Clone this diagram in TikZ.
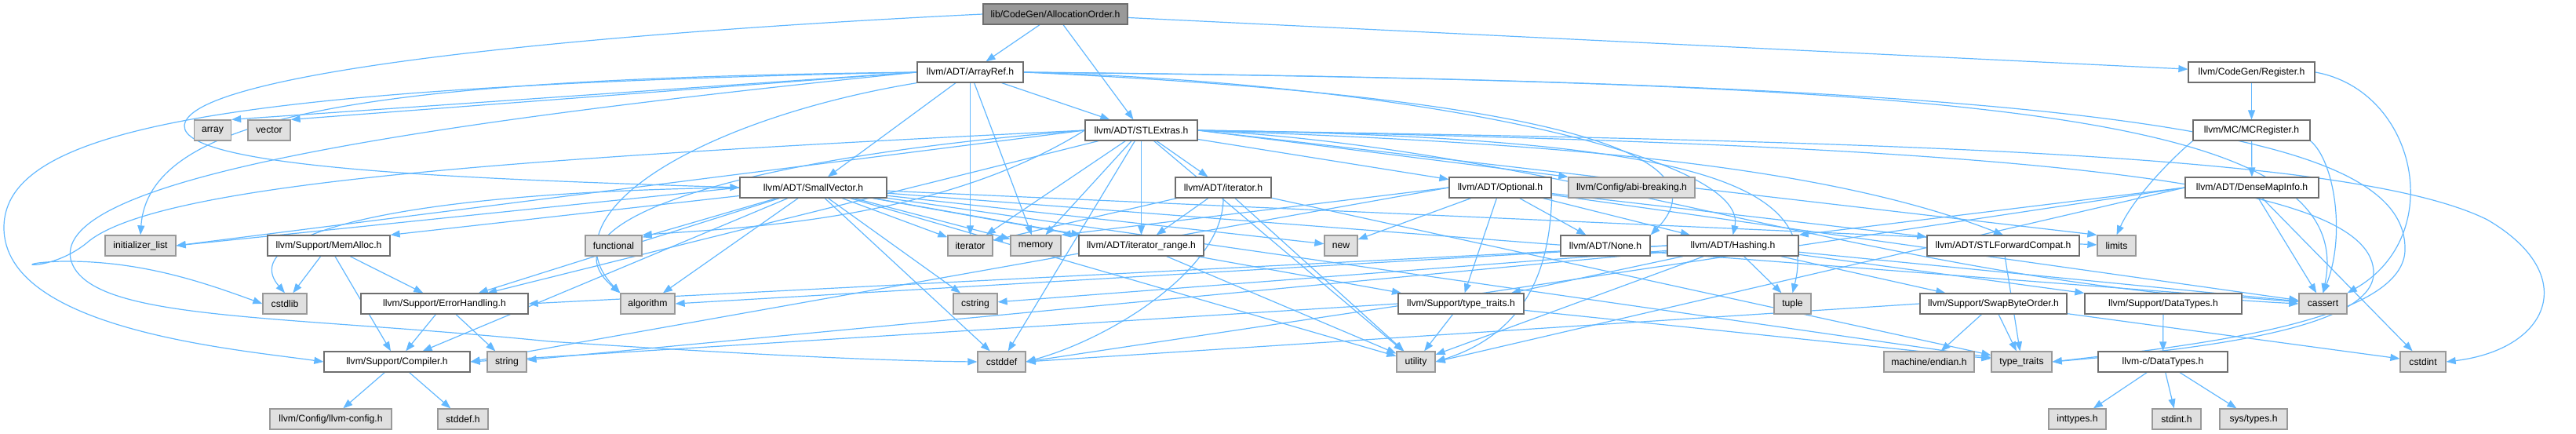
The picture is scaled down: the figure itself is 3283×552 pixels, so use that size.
\documentclass[tikz,border=0pt]{standalone}
\usepackage{fontspec}
\setmainfont{Liberation Sans}
\usetikzlibrary{arrows.meta}
\definecolor{edgec}{RGB}{99,184,255}
\definecolor{gfill}{RGB}{224,224,224}
\definecolor{gline}{RGB}{153,153,153}
\definecolor{wline}{RGB}{110,110,110}
\definecolor{rfill}{RGB}{153,153,153}
\pgfdeclarelayer{bg}
\pgfsetlayers{bg,main}
\begin{document}
\begin{tikzpicture}[x=1pt,y=-1pt,
 box/.style={draw=wline, fill=white, line width=1.3pt, minimum height=26pt, inner sep=0pt, font=\fontsize{12.2}{14}\selectfont, text=black},
 sys/.style={box, draw=gline, fill=gfill},
 rootbox/.style={box, fill=rfill, draw=wline},
 edge/.style={draw=edgec, line width=1.2pt, -{Triangle[length=12pt,width=9pt]}}]
\useasboundingbox (0,0) rectangle (3283,552);
% row 0
\node[rootbox, minimum width=184pt] (A) at (1345,18) {lib/CodeGen/AllocationOrder.h};
% row 1
\node[box, minimum width=135pt] (AR) at (1236.5,92) {llvm/ADT/ArrayRef.h};
\node[box, minimum width=161pt] (RG) at (2869.5,92) {llvm/CodeGen/Register.h};
% row 2
\node[sys, minimum width=47pt] (array) at (271,166) {array};
\node[sys, minimum width=54pt] (vector) at (343,166) {vector};
\node[box, minimum width=143pt] (SE) at (1454.5,166) {llvm/ADT/STLExtras.h};
\node[box, minimum width=149pt] (MR) at (2869.5,166) {llvm/MC/MCRegister.h};
% row 3
\node[box, minimum width=187pt] (SV) at (1036.5,239) {llvm/ADT/SmallVector.h};
\node[box, minimum width=122pt] (IT) at (1559,239) {llvm/ADT/iterator.h};
\node[box, minimum width=130pt] (OP) at (1912,239) {llvm/ADT/Optional.h};
\node[sys, minimum width=161pt] (ABI) at (2079.5,239) {llvm/Config/abi-breaking.h};
\node[box, minimum width=170pt] (DM) at (2870,239) {llvm/ADT/DenseMapInfo.h};
% row 4
\node[sys, minimum width=90pt] (IL) at (179,313) {initializer\_list};
\node[box, minimum width=156pt] (MA) at (419,313) {llvm/Support/MemAlloc.h};
\node[sys, minimum width=72pt] (FN) at (782,313) {functional};
\node[sys, minimum width=57pt] (ITR) at (1236.5,313) {iterator};
\node[sys, minimum width=64pt] (MEM) at (1320,313) {memory};
\node[box, minimum width=159pt] (IRG) at (1454.5,313) {llvm/ADT/iterator\_range.h};
\node[sys, minimum width=42pt] (NEW) at (1709,313) {new};
\node[box, minimum width=114pt] (NONE) at (2046,313) {llvm/ADT/None.h};
\node[box, minimum width=167pt] (HA) at (2208.5,313) {llvm/ADT/Hashing.h};
\node[box, minimum width=194pt] (SF) at (2553,313) {llvm/ADT/STLForwardCompat.h};
\node[sys, minimum width=49pt] (LIM) at (2697.5,313) {limits};
% row 5
\node[sys, minimum width=56pt] (CSL) at (363,387) {cstdlib};
\node[box, minimum width=213pt] (EH) at (566.5,387) {llvm/Support/ErrorHandling.h};
\node[sys, minimum width=69pt] (ALG) at (825.5,387) {algorithm};
\node[sys, minimum width=56pt] (CST) at (1243,387) {cstring};
\node[box, minimum width=160pt] (TT) at (1862,387) {llvm/Support/type\_traits.h};
\node[sys, minimum width=47pt] (TUP) at (2284.5,387) {tuple};
\node[box, minimum width=187pt] (SB) at (2540.5,387) {llvm/Support/SwapByteOrder.h};
\node[box, minimum width=200pt] (DT) at (2757,387) {llvm/Support/DataTypes.h};
\node[sys, minimum width=61pt] (CAS) at (2960.5,387) {cassert};
% row 6
\node[box, minimum width=186pt] (CO) at (506,461) {llvm/Support/Compiler.h};
\node[sys, minimum width=50pt] (STR) at (646,461) {string};
\node[sys, minimum width=61pt] (CDF) at (1276.5,461) {cstddef};
\node[sys, minimum width=49pt] (UT) at (1804.5,461) {utility};
\node[sys, minimum width=115pt] (END) at (2458.5,461) {machine/endian.h};
\node[sys, minimum width=77pt] (TYT) at (2576.5,461) {type\_traits};
\node[box, minimum width=165pt] (CDT) at (2756.5,461) {llvm-c/DataTypes.h};
\node[sys, minimum width=58pt] (CI) at (3088,461) {cstdint};
% row 7
\node[sys, minimum width=155pt] (LC) at (421.5,534) {llvm/Config/llvm-config.h};
\node[sys, minimum width=64pt] (SDH) at (590,534) {stddef.h};
\node[sys, minimum width=73pt] (INT) at (2647.5,534) {inttypes.h};
\node[sys, minimum width=62pt] (SI) at (2774,534) {stdint.h};
\node[sys, minimum width=86pt] (STY) at (2872,534) {sys/types.h};

\begin{pgfonlayer}{bg}
% root
\draw[edge] (A) -- (AR);
\draw[edge] (A) -- (SE);
\draw[edge] (A.west) .. controls (700,45) and (240,95) .. (235,160) .. controls (232,215) and (600,228) .. (SV.west);
\draw[edge] (A) -- (RG);
% ArrayRef
\draw[edge] (AR.east) .. controls (1800,105) and (2230,200) .. (HA.north);
\draw[edge] (AR.east) .. controls (1800,115) and (2230,170) .. (NONE.north east);
\draw[edge] (AR) -- (SV);
\draw[edge] (AR) -- (SE);
\draw[edge] (AR.west) .. controls (300,110) and (5,160) .. (5,290) .. controls (5,420) and (300,445) .. (CO.west);
\draw[edge] (AR.south west) .. controls (900,150) and (690,270) .. (ALG.north west);
\draw[edge] (AR.west) -- (array.north east);
\draw[edge] (AR.east) .. controls (2500,105) and (3010,140) .. (CAS.north);
\draw[edge] (AR.west) .. controls (500,160) and (70,230) .. (90,330) .. controls (110,410) and (350,400) .. (700,435) .. controls (1000,455) and (1150,460) .. (CDF.west);
\draw[edge] (AR.west) .. controls (500,100) and (190,140) .. (IL.north);
\draw[edge] (AR) -- (ITR);
\draw[edge] (AR) -- (MEM);
\draw[edge] (AR.east) .. controls (2700,105) and (3070,170) .. (3065,320) .. controls (3060,410) and (2800,440) .. (TYT.east);
\draw[edge] (AR.west) -- (vector.north east);
% STLExtras
\draw[edge] (SE) -- (OP);
\draw[edge] (SE.east) .. controls (1900,180) and (2300,200) .. (SF.north);
\draw[edge] (SE) -- (IT);
\draw[edge] (SE) -- (IRG);
\draw[edge] (SE.east) -- (ABI.north west);
\draw[edge] (SE) -- (EH);
\draw[edge] (SE.west) .. controls (950,200) and (680,280) .. (ALG.north west);
\draw[edge] (SE.east) .. controls (2000,190) and (2400,360) .. (CAS.west);
\draw[edge] (SE) -- (CDF);
\draw[edge] (SE.east) .. controls (2400,180) and (3000,195) .. (3170,280) .. controls (3290,350) and (3250,445) .. (CI.east);
\draw[edge] (SE.west) .. controls (700,200) and (200,230) .. (110,310) .. controls (60,350) and (0,335) .. (80,333) .. controls (180,332) and (260,360) .. (CSL.west);
\draw[edge] (SE.west) .. controls (1200,280) and (950,290) .. (FN.north east);
\draw[edge] (SE.west) -- (IL.east);
\draw[edge] (SE) -- (ITR);
\draw[edge] (SE.east) -- (LIM.north west);
\draw[edge] (SE) -- (MEM);
\draw[edge] (SE.east) .. controls (2150,175) and (2320,230) .. (TUP.north);
\draw[edge] (SE.east) .. controls (2600,185) and (3030,230) .. (3025,350) .. controls (3020,420) and (2800,445) .. (TYT.east);
\draw[edge] (SE) -- (UT);
% Optional
\draw[edge] (OP) -- (HA);
\draw[edge] (OP) -- (NONE);
\draw[edge] (OP) -- (SF);
\draw[edge] (OP.west) -- (CO.east);
\draw[edge] (OP) -- (TT);
\draw[edge] (OP) -- (CAS);
\draw[edge] (OP.west) -- (MEM.north east);
\draw[edge] (OP) -- (NEW);
\draw[edge] (OP.south east) .. controls (1975,320) and (1960,420) .. (UT.east);
% iterator.h
\draw[edge] (IT) -- (IRG);
\draw[edge] (IT.south) .. controls (1560,340) and (1420,430) .. (CDF.east);
\draw[edge] (IT) -- (ITR);
\draw[edge] (IT) -- (TYT);
\draw[edge] (IT) -- (UT);
% iterator_range
\draw[edge] (IRG) -- (UT);
% SmallVector
\draw[edge] (SV) -- (IRG);
\draw[edge] (SV) -- (CO);
\draw[edge] (SV) -- (EH);
\draw[edge] (SV) -- (MA.north east);
\draw[edge] (SV) -- (TT);
\draw[edge] (SV) -- (ALG);
\draw[edge] (SV) -- (CAS);
\draw[edge] (SV) -- (CDF);
\draw[edge] (SV.west) .. controls (500,245) and (300,300) .. (CSL.north);
\draw[edge] (SV) -- (CST);
\draw[edge] (SV) -- (FN);
\draw[edge] (SV.west) -- (IL.east);
\draw[edge] (SV) -- (ITR);
\draw[edge] (SV) -- (LIM);
\draw[edge] (SV) -- (MEM);
\draw[edge] (SV) -- (NEW);
\draw[edge] (SV) -- (TYT);
\draw[edge] (SV) -- (UT);
% MemAlloc
\draw[edge] (MA) -- (CO);
\draw[edge] (MA) -- (EH);
\draw[edge] (MA) -- (CSL);
% ErrorHandling
\draw[edge] (EH) -- (CO);
\draw[edge] (EH) -- (STR);
% Compiler
\draw[edge] (CO) -- (LC);
\draw[edge] (CO) -- (SDH);
% type_traits.h
\draw[edge] (TT.west) -- (CO.east);
\draw[edge] (TT) -- (TYT);
\draw[edge] (TT) -- (UT);
% Hashing
\draw[edge] (HA) -- (DT);
\draw[edge] (HA.west) -- (EH.east);
\draw[edge] (HA) -- (SB);
\draw[edge] (HA) -- (TT);
\draw[edge] (HA.west) -- (ALG.east);
\draw[edge] (HA) -- (CAS);
\draw[edge] (HA) -- (CST);
\draw[edge] (HA) -- (STR);
\draw[edge] (HA) -- (TUP);
\draw[edge] (HA) -- (UT);
% SwapByteOrder
\draw[edge] (SB.west) -- (CDF.east);
\draw[edge] (SB) -- (CI);
\draw[edge] (SB) -- (END);
\draw[edge] (SB) -- (TYT);
% DataTypes
\draw[edge] (DT) -- (CDT);
\draw[edge] (CDT) -- (INT);
\draw[edge] (CDT) -- (SI);
\draw[edge] (CDT) -- (STY);
% STLForwardCompat
\draw[edge] (SF) -- (TYT);
% Register
\draw[edge] (RG) -- (MR);
\draw[edge] (RG.east) .. controls (3080,115) and (3120,300) .. (CAS.north east);
% MCRegister
\draw[edge] (MR) -- (DM);
\draw[edge] (MR.south east) .. controls (2975,205) and (2990,300) .. (CAS.north);
\draw[edge] (MR.south west) .. controls (2770,200) and (2720,250) .. (LIM.north);
% DenseMapInfo
\draw[edge] (DM.west) -- (HA.north east);
\draw[edge] (DM) -- (CAS);
\draw[edge] (DM.west) -- (CDF.east);
\draw[edge] (DM) -- (CI);
\draw[edge] (DM.west) -- (UT.east);
\end{pgfonlayer}
\end{tikzpicture}
\end{document}
